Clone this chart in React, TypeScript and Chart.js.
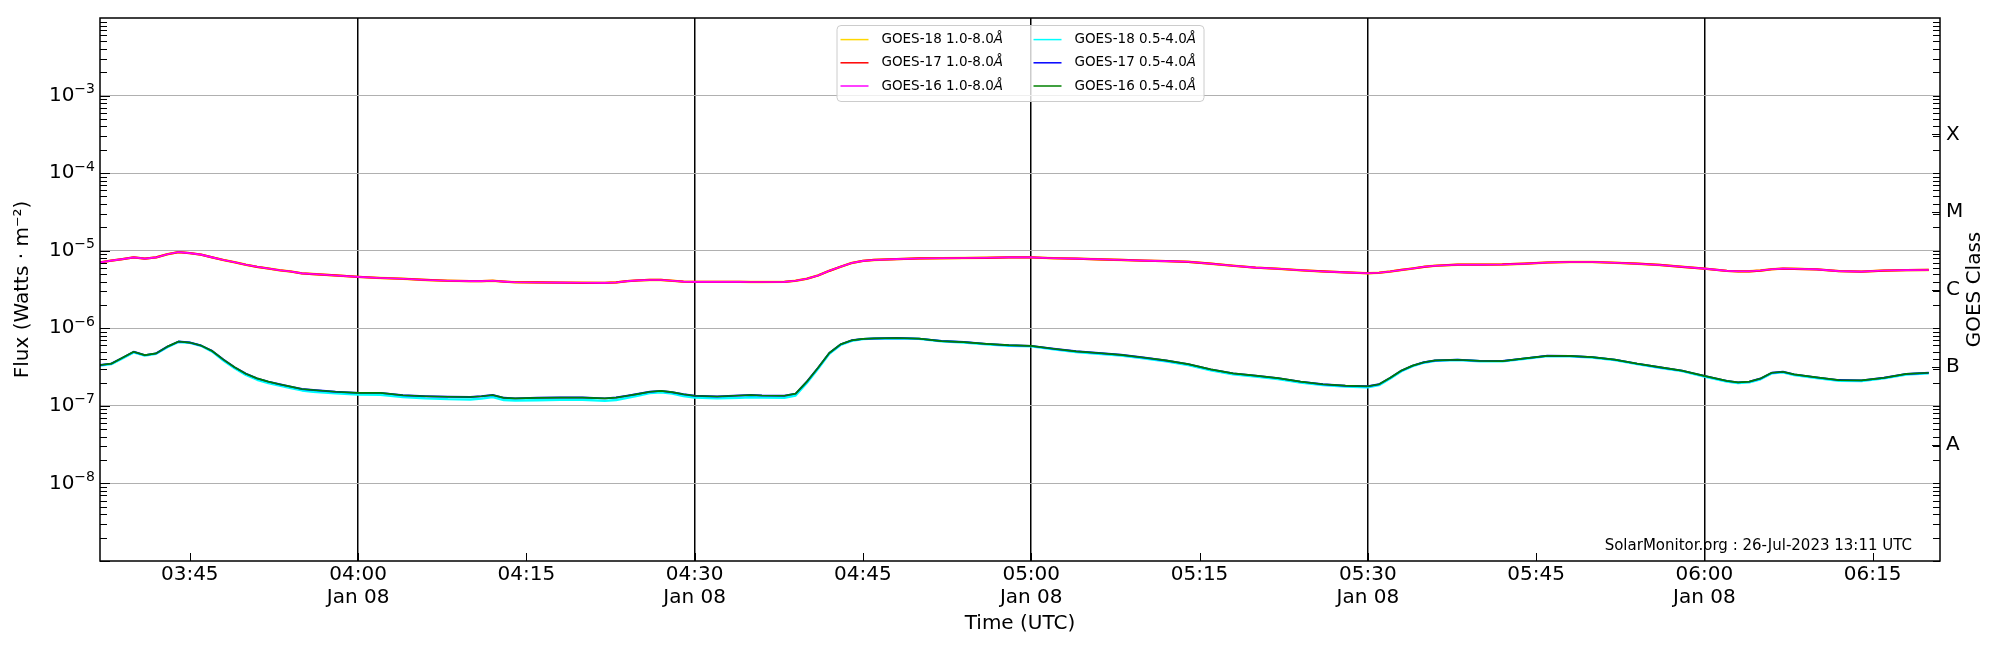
import { useEffect, useRef } from "react";
import { Chart, registerables } from "chart.js";

Chart.register(...registerables);

// minutes since 00:00 UT on Jan 08
const times = [
  217, 218, 219, 220, 221, 222, 223, 224, 225, 226,
  227, 228, 229, 230, 231, 232, 233, 234, 235, 236,
  238, 240, 242, 244, 246, 248, 250, 251, 252, 253,
  254, 256, 258, 260, 262, 263, 264, 265, 266, 267,
  268, 269, 270, 272, 274, 275, 276, 278, 279, 280,
  281, 282, 283, 284, 285, 286, 288, 290, 292, 294,
  296, 298, 300, 302, 304, 306, 308, 310, 312, 314,
  316, 318, 320, 322, 324, 326, 328, 330, 331, 332,
  333, 334, 335, 336, 338, 340, 342, 344, 346, 348,
  350, 352, 354, 356, 358, 360, 362, 363, 364, 365,
  366, 367, 368, 370, 372, 374, 376, 378, 380,
];

// 1.0-8.0 A channel (W m^-2)
const goes16Long = [
  7.08e-6, 7.45e-6, 7.8e-6, 8.2e-6, 7.9e-6, 8.2e-6, 9.0e-6, 9.6e-6, 9.3e-6, 8.9e-6,
  8.2e-6, 7.6e-6, 7.1e-6, 6.6e-6, 6.2e-6, 5.9e-6, 5.6e-6, 5.4e-6, 5.1e-6, 5.0e-6,
  4.8e-6, 4.6e-6, 4.45e-6, 4.35e-6, 4.2e-6, 4.1e-6, 4.05e-6, 4.05e-6, 4.1e-6, 4.0e-6,
  3.92e-6, 3.9e-6, 3.88e-6, 3.86e-6, 3.85e-6, 3.9e-6, 4.05e-6, 4.15e-6, 4.2e-6, 4.2e-6,
  4.1e-6, 4.0e-6, 3.97e-6, 3.96e-6, 3.96e-6, 3.95e-6, 3.95e-6, 3.97e-6, 4.1e-6, 4.35e-6,
  4.8e-6, 5.5e-6, 6.2e-6, 6.95e-6, 7.4e-6, 7.6e-6, 7.8e-6, 7.95e-6, 8.0e-6, 8.05e-6,
  8.1e-6, 8.2e-6, 8.2e-6, 8.0e-6, 7.9e-6, 7.75e-6, 7.6e-6, 7.45e-6, 7.35e-6, 7.2e-6,
  6.8e-6, 6.4e-6, 6.05e-6, 5.85e-6, 5.6e-6, 5.4e-6, 5.25e-6, 5.12e-6, 5.2e-6, 5.4e-6,
  5.65e-6, 5.9e-6, 6.2e-6, 6.4e-6, 6.6e-6, 6.6e-6, 6.65e-6, 6.8e-6, 7.05e-6, 7.15e-6,
  7.15e-6, 7.0e-6, 6.8e-6, 6.55e-6, 6.2e-6, 5.88e-6, 5.5e-6, 5.43e-6, 5.43e-6, 5.55e-6,
  5.77e-6, 5.88e-6, 5.85e-6, 5.75e-6, 5.45e-6, 5.38e-6, 5.55e-6, 5.62e-6, 5.65e-6,
];
// GOES-17 and GOES-18 long channels lie under the GOES-16 trace
const goes17Long = goes16Long;
const goes18Long = goes16Long;

// 0.5-4.0 A channel (W m^-2)
const goes16Short = [
  3.36e-7, 3.5e-7, 4.17e-7, 4.98e-7, 4.5e-7, 4.75e-7, 5.8e-7, 6.75e-7, 6.55e-7, 6.0e-7,
  5.1e-7, 3.95e-7, 3.15e-7, 2.6e-7, 2.26e-7, 2.05e-7, 1.9e-7, 1.77e-7, 1.65e-7, 1.6e-7,
  1.52e-7, 1.47e-7, 1.47e-7, 1.37e-7, 1.33e-7, 1.31e-7, 1.3e-7, 1.33e-7, 1.38e-7, 1.27e-7,
  1.25e-7, 1.27e-7, 1.28e-7, 1.28e-7, 1.25e-7, 1.28e-7, 1.35e-7, 1.43e-7, 1.52e-7, 1.56e-7,
  1.5e-7, 1.41e-7, 1.35e-7, 1.32e-7, 1.36e-7, 1.38e-7, 1.36e-7, 1.35e-7, 1.44e-7, 2.05e-7,
  3.1e-7, 4.8e-7, 6.2e-7, 7.0e-7, 7.3e-7, 7.4e-7, 7.5e-7, 7.35e-7, 6.85e-7, 6.65e-7,
  6.3e-7, 6.05e-7, 5.94e-7, 5.45e-7, 5.05e-7, 4.8e-7, 4.55e-7, 4.2e-7, 3.85e-7, 3.45e-7,
  2.95e-7, 2.62e-7, 2.45e-7, 2.28e-7, 2.05e-7, 1.9e-7, 1.82e-7, 1.79e-7, 1.9e-7, 2.3e-7,
  2.85e-7, 3.3e-7, 3.65e-7, 3.85e-7, 3.93e-7, 3.8e-7, 3.78e-7, 4.1e-7, 4.42e-7, 4.4e-7,
  4.25e-7, 3.95e-7, 3.5e-7, 3.15e-7, 2.85e-7, 2.43e-7, 2.1e-7, 2.01e-7, 2.05e-7, 2.25e-7,
  2.67e-7, 2.75e-7, 2.55e-7, 2.33e-7, 2.15e-7, 2.13e-7, 2.3e-7, 2.58e-7, 2.67e-7,
];
const goes17Short = goes16Short;
const goes18Short = [
  3.3e-7, 3.45e-7, 4.1e-7, 4.9e-7, 4.45e-7, 4.7e-7, 5.7e-7, 6.65e-7, 6.5e-7, 5.95e-7,
  5.0e-7, 3.85e-7, 3.05e-7, 2.5e-7, 2.17e-7, 1.97e-7, 1.82e-7, 1.7e-7, 1.58e-7, 1.52e-7,
  1.45e-7, 1.4e-7, 1.39e-7, 1.3e-7, 1.25e-7, 1.22e-7, 1.21e-7, 1.24e-7, 1.3e-7, 1.19e-7,
  1.17e-7, 1.18e-7, 1.2e-7, 1.2e-7, 1.16e-7, 1.19e-7, 1.27e-7, 1.36e-7, 1.46e-7, 1.5e-7,
  1.44e-7, 1.34e-7, 1.28e-7, 1.25e-7, 1.27e-7, 1.29e-7, 1.28e-7, 1.27e-7, 1.36e-7, 1.97e-7,
  3.0e-7, 4.7e-7, 6.1e-7, 6.9e-7, 7.25e-7, 7.35e-7, 7.45e-7, 7.3e-7, 6.8e-7, 6.55e-7,
  6.2e-7, 5.95e-7, 5.85e-7, 5.35e-7, 4.95e-7, 4.7e-7, 4.45e-7, 4.1e-7, 3.75e-7, 3.35e-7,
  2.87e-7, 2.55e-7, 2.38e-7, 2.22e-7, 2.0e-7, 1.86e-7, 1.78e-7, 1.74e-7, 1.85e-7, 2.25e-7,
  2.8e-7, 3.25e-7, 3.6e-7, 3.8e-7, 3.9e-7, 3.76e-7, 3.74e-7, 4.05e-7, 4.38e-7, 4.35e-7,
  4.2e-7, 3.9e-7, 3.45e-7, 3.1e-7, 2.8e-7, 2.38e-7, 2.06e-7, 1.97e-7, 2.01e-7, 2.2e-7,
  2.62e-7, 2.7e-7, 2.5e-7, 2.29e-7, 2.11e-7, 2.09e-7, 2.26e-7, 2.54e-7, 2.63e-7,
];

const seriesLabels = [
  "GOES-18 1.0-8.0Å",
  "GOES-17 1.0-8.0Å",
  "GOES-16 1.0-8.0Å",
  "GOES-18 0.5-4.0Å",
  "GOES-17 0.5-4.0Å",
  "GOES-16 0.5-4.0Å",
];
const seriesColors = ["#ffd700", "#ff0000", "#ff00ff", "#00ffff", "#0000ff", "#008000"];
const seriesWidths = [2.4, 2.2, 1.6, 2.4, 1.9, 1.7];

const timeTicks = [225, 240, 255, 270, 285, 300, 315, 330, 345, 360, 375];
const dayLabel = "Jan 08";
const fluxTicks = [1e-8, 1e-7, 1e-6, 1e-5, 1e-4, 1e-3];
const fluxExponents = ["−8", "−7", "−6", "−5", "−4", "−3"];
const classTicks = [10 ** -7.5, 10 ** -6.5, 10 ** -5.5, 10 ** -4.5, 10 ** -3.5];
const classLabels = ["A", "B", "C", "M", "X"];
const stamp = "SolarMonitor.org : 26-Jul-2023 13:11 UTC";

const FONT = '"DejaVu Sans"';

function hhmm(v: number) {
  const h = Math.floor(v / 60);
  const m = Math.round(v - h * 60);
  return String(h).padStart(2, "0") + ":" + String(m).padStart(2, "0");
}

const decorations = {
  id: "decorations",
  afterDraw(chart: any) {
    const { ctx, chartArea: a, scales } = chart;
    const y = scales.y;
    const x = scales.x;
    ctx.save();
    ctx.strokeStyle = "#000";
    ctx.lineWidth = 1;

    // inward log ticks on both sides
    for (let e = -9; e < -2; e++) {
      for (let k = 1; k <= 9; k++) {
        const py = Math.round(y.getPixelForValue(k * 10 ** e)) + 0.5;
        const len = k === 1 ? 10 : 7;
        ctx.beginPath();
        ctx.moveTo(a.left, py);
        ctx.lineTo(a.left + len, py);
        ctx.moveTo(a.right, py);
        ctx.lineTo(a.right - 7, py);
        ctx.stroke();
      }
    }
    for (const v of classTicks) {
      const py = Math.round(y.getPixelForValue(v)) + 0.5;
      ctx.beginPath();
      ctx.moveTo(a.right, py);
      ctx.lineTo(a.right - 8, py);
      ctx.stroke();
    }
    for (const t of timeTicks) {
      const px = Math.round(x.getPixelForValue(t)) + 0.5;
      ctx.beginPath();
      ctx.moveTo(px, a.bottom);
      ctx.lineTo(px, a.bottom - 8);
      ctx.stroke();
    }

    // frame
    ctx.lineWidth = 1.5;
    ctx.strokeRect(a.left, a.top, a.right - a.left, a.bottom - a.top);

    // left tick labels, 10 with a raised exponent
    ctx.fillStyle = "#000";
    ctx.textAlign = "right";
    ctx.textBaseline = "middle";
    fluxTicks.forEach((v, i) => {
      const py = y.getPixelForValue(v);
      const xr = a.left - 5;
      ctx.font = `14px ${FONT}`;
      const ew = ctx.measureText(fluxExponents[i]).width;
      ctx.fillText(fluxExponents[i], xr, py - 6);
      ctx.font = `20px ${FONT}`;
      ctx.fillText("10", xr - ew, py);
    });

    // right axis title
    ctx.font = `20px ${FONT}`;
    ctx.textAlign = "center";
    ctx.translate(a.right + 35, (a.top + a.bottom) / 2);
    ctx.rotate(-Math.PI / 2);
    ctx.fillText("GOES Class", 0, 0);
    ctx.setTransform(1, 0, 0, 1, 0, 0);
    ctx.restore();

    // stamp
    ctx.save();
    ctx.fillStyle = "#000";
    ctx.font = `15px ${FONT}`;
    ctx.textAlign = "right";
    ctx.textBaseline = "middle";
    ctx.fillText(stamp, a.right - 28, a.bottom - 15);
    ctx.restore();

    // legend box, two columns
    const boxW = 367;
    const boxH = 76;
    const bx = (a.left + a.right) / 2 - boxW / 2;
    const by = a.top + 7;
    ctx.save();
    ctx.fillStyle = "rgba(255,255,255,0.8)";
    ctx.strokeStyle = "#cccccc";
    ctx.lineWidth = 1;
    ctx.beginPath();
    ctx.roundRect(bx + 0.5, by + 0.5, boxW, boxH, 4);
    ctx.fill();
    ctx.stroke();
    ctx.textBaseline = "middle";
    ctx.textAlign = "left";
    chart.data.datasets.forEach((ds: any, i: number) => {
      const col = Math.floor(i / 3);
      const row = i % 3;
      const lx = bx + 4 + col * 193;
      const ly = by + 14.6 + row * 23.2;
      ctx.strokeStyle = ds.borderColor;
      ctx.lineWidth = 1.5;
      ctx.beginPath();
      ctx.moveTo(lx, ly);
      ctx.lineTo(lx + 28, ly);
      ctx.stroke();
      const label: string = ds.label;
      const main = label.slice(0, -1);
      ctx.fillStyle = "#000";
      ctx.font = `13.5px ${FONT}`;
      ctx.fillText(main, lx + 41, ly);
      const w = ctx.measureText(main).width;
      ctx.font = `italic 13.5px ${FONT}`;
      ctx.fillText(label.slice(-1), lx + 41 + w, ly);
    });
    ctx.restore();
  },
};

export default function App() {
  const chartRef = useRef<HTMLCanvasElement | null>(null);

  useEffect(() => {
    const canvas = chartRef.current;
    if (!canvas) return;

    Chart.defaults.font.family = FONT;
    Chart.defaults.color = "#000";

    const seriesValues = [goes18Long, goes17Long, goes16Long, goes18Short, goes17Short, goes16Short];

    const chart = new Chart(canvas, {
      type: "line",
      data: {
        datasets: seriesValues.map((vals, i) => ({
          label: seriesLabels[i],
          data: times.map((t, j) => ({ x: t, y: vals[j] })),
          borderColor: seriesColors[i],
          backgroundColor: seriesColors[i],
          borderWidth: seriesWidths[i],
          pointRadius: 0,
          tension: 0,
          borderJoinStyle: "round" as const,
          // later series are drawn on top, as in the original plot
          order: seriesValues.length - i,
          yAxisID: "y",
        })),
      },
      options: {
        responsive: true,
        maintainAspectRatio: false,
        animation: false,
        layout: { padding: { top: 15, left: 0, right: 0, bottom: 0 } },
        plugins: {
          legend: { display: false },
          tooltip: { enabled: false },
        },
        scales: {
          x: {
            type: "linear",
            min: 217,
            max: 381,
            afterBuildTicks: (s: any) => {
              s.ticks = timeTicks.map((v) => ({ value: v }));
            },
            afterFit: (s: any) => {
              s.height = 89;
            },
            grid: {
              color: (c: any) => (c.tick && c.tick.value % 30 === 0 ? "#000" : "rgba(0,0,0,0)"),
              lineWidth: 1.5,
              drawTicks: false,
            },
            border: { display: false },
            ticks: {
              autoSkip: false,
              maxRotation: 0,
              padding: 2,
              color: "#000",
              font: { size: 20, lineHeight: 1.17 },
              callback: (v: any) => (Number(v) % 30 === 0 ? [hhmm(Number(v)), dayLabel] : hhmm(Number(v))),
            },
            title: {
              display: true,
              text: "Time (UTC)",
              color: "#000",
              font: { size: 20 },
              padding: { top: 0, bottom: 14 },
            },
          },
          y: {
            type: "logarithmic",
            position: "left",
            min: 1e-9,
            max: 1e-2,
            afterBuildTicks: (s: any) => {
              s.ticks = fluxTicks.map((v) => ({ value: v }));
            },
            afterFit: (s: any) => {
              s.width = 100;
            },
            grid: { color: "#b0b0b0", lineWidth: 1, drawTicks: false },
            border: { display: false },
            // labels are drawn by the decorations plugin
            ticks: { display: false },
            title: {
              display: true,
              text: "Flux (Watts · m⁻²)",
              color: "#000",
              font: { size: 20 },
              padding: { top: 11, bottom: 0 },
            },
          },
          y2: {
            type: "logarithmic",
            position: "right",
            min: 1e-9,
            max: 1e-2,
            afterBuildTicks: (s: any) => {
              s.ticks = classTicks.map((v) => ({ value: v }));
            },
            afterFit: (s: any) => {
              s.width = 60;
            },
            grid: { display: false, drawTicks: false },
            border: { display: false },
            ticks: {
              autoSkip: false,
              padding: 6,
              color: "#000",
              font: { size: 20 },
              callback: (_v: any, i: number) => classLabels[i],
            },
          },
        },
      },
      plugins: [decorations],
    });

    return () => {
      chart.destroy();
    };
  }, []);

  return (
    <div style={{ position: "fixed", left: 0, top: 0, width: 2000, height: 650, background: "#fff" }}>
      <canvas ref={chartRef} />
    </div>
  );
}
